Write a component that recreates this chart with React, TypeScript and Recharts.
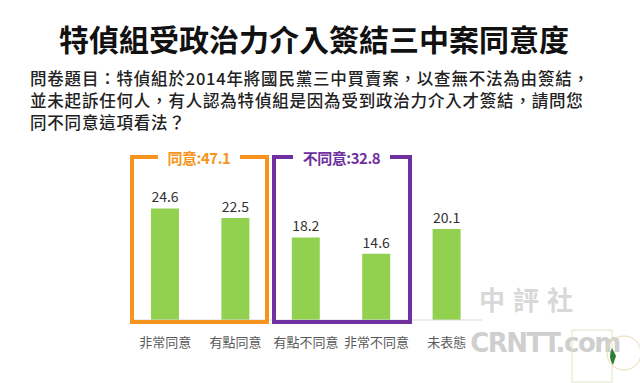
import { BarChart, Bar, XAxis, YAxis, LabelList } from "recharts";

const categories = ["非常同意", "有點同意", "有點不同意", "非常不同意", "未表態"];
const shares = [24.6, 22.5, 18.2, 14.6, 20.1];
const groupLabels = ["同意:47.1", "不同意:32.8"];

const title = "特偵組受政治力介入簽結三中案同意度";
const questionLines = [
  "問卷題目：特偵組於2014年將國民黨三中買賣案，以查無不法為由簽結，",
  "並未起訴任何人，有人認為特偵組是因為受到政治力介入才簽結，請問您",
  "同不同意這項看法？",
];

const data = categories.map((name, i) => ({ name, value: shares[i] }));

const sans = "'Noto Sans CJK TC', 'Noto Sans', sans-serif";

// bracket box with a gap in the top edge for its label
function GroupBox({ x1, x2, gapL, gapR, color, label }: any) {
  const top = 157;
  const bottom = 322;
  return (
    <g>
      <path
        d={`M${gapL},${top} H${x1} V${bottom} H${x2} V${top} H${gapR}`}
        fill="none"
        stroke={color}
        strokeWidth={4}
      />
      <text
        x={(gapL + gapR) / 2}
        y={157}
        textAnchor="middle"
        dominantBaseline="central"
        fill={color}
        fontFamily={sans}
        fontWeight={700}
        fontSize={15}
        letterSpacing={-0.5}
      >
        {label}
      </text>
    </g>
  );
}

export default function App() {
  return (
    <div
      style={{
        position: "absolute",
        left: 0,
        top: 0,
        width: 640,
        height: 383,
        background: "#fff",
        overflow: "hidden",
      }}
    >
      <div
        style={{
          position: "absolute",
          left: 0,
          top: 18,
          width: 628,
          textAlign: "center",
          fontFamily: sans,
          fontWeight: 700,
          fontSize: 30,
          lineHeight: "40px",
          color: "#111",
        }}
      >
        {title}
      </div>
      <div
        style={{
          position: "absolute",
          left: 30,
          top: 67,
          fontFamily: sans,
          fontWeight: 500,
          fontSize: 16.5,
          letterSpacing: 0.8,
          lineHeight: "22px",
          color: "#222",
          whiteSpace: "nowrap",
        }}
      >
        {questionLines.map((l) => (
          <div key={l}>{l}</div>
        ))}
      </div>

      <div style={{ position: "absolute", left: 0, top: 0 }}>
        <BarChart
          width={640}
          height={383}
          data={data}
          margin={{ top: 184, right: 158, bottom: 33, left: 130 }}
        >
          <YAxis hide domain={[0, 30]} />
          <XAxis
            dataKey="name"
            height={30}
            axisLine={{ stroke: "#d9d9d9", strokeWidth: 1 }}
            tickLine={false}
            tickMargin={12}
            interval={0}
            tick={{ fill: "#595959", fontSize: 13, fontFamily: sans }}
          />
          <Bar dataKey="value" fill="#92D050" barSize={28} isAnimationActive={false}>
            <LabelList
              dataKey="value"
              position="top"
              offset={6}
              fill="#333"
              fontSize={14}
              fontFamily={sans}
            />
          </Bar>
        </BarChart>
      </div>

      <svg
        width={640}
        height={383}
        style={{ position: "absolute", left: 0, top: 0, pointerEvents: "none" }}
      >
        <GroupBox x1={132} x2={267} gapL={158} gapR={240} color="#F7941D" label={groupLabels[0]} />
        <GroupBox x1={274} x2={410} gapL={293} gapR={390} color="#7030A0" label={groupLabels[1]} />

        {/* watermark */}
        <text
          x={530}
          y={310}
          textAnchor="middle"
          fontFamily={sans}
          fontSize={26}
          fontWeight={700}
          fill="#d8d8d8"
          letterSpacing={8}
        >
          中評社
        </text>
        <text
          x={545}
          y={352}
          textAnchor="middle"
          fontFamily="'DejaVu Sans', sans-serif"
          fontSize={26}
          fontWeight={700}
          fill="#cfcfcf"
          letterSpacing={-1.5}
        >
          CRNTT.com
        </text>
        <rect x={572} y={330} width={40} height={52} fill="none" stroke="#dfe6c4" strokeWidth={1} />
        <circle cx={624} cy={353} r={17} fill="none" stroke="#e9d9b0" strokeWidth={1} />
        <path d="M612,348 A17,17 0 0,0 613,365 L616,356 Z" fill="#2e7d32" />
      </svg>
    </div>
  );
}
